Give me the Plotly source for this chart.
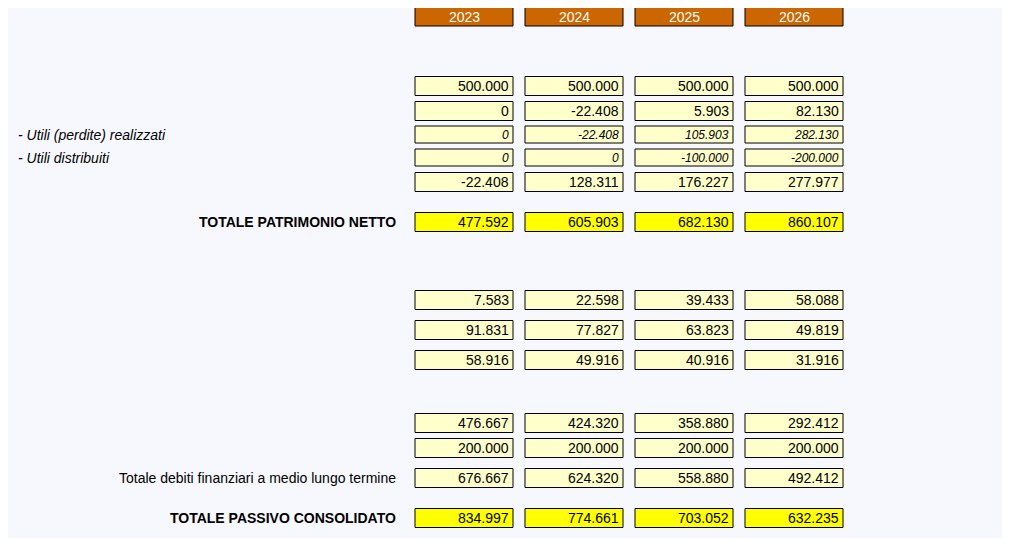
import plotly.graph_objects as go

years = ["2023", "2024", "2025", "2026"]
capitale = ["500.000", "500.000", "500.000", "500.000"]
utili_portati = ["0", "-22.408", "5.903", "82.130"]
utili_realizzati = ["0", "-22.408", "105.903", "282.130"]
utili_distribuiti = ["0", "0", "-100.000", "-200.000"]
risultato = ["-22.408", "128.311", "176.227", "277.977"]
totale_pn = ["477.592", "605.903", "682.130", "860.107"]
tfr = ["7.583", "22.598", "39.433", "58.088"]
risconti_contributi = ["91.831", "77.827", "63.823", "49.819"]
risconti_crediti = ["58.916", "49.916", "40.916", "31.916"]
fin_terzi = ["476.667", "424.320", "358.880", "292.412"]
fin_soci = ["200.000", "200.000", "200.000", "200.000"]
totale_debiti = ["676.667", "624.320", "558.880", "492.412"]
totale_pc = ["834.997", "774.661", "703.052", "632.235"]

FONT = "Liberation Sans, Arial, sans-serif"
col_x = [415, 525, 635, 745]
W = 98

shapes = []
ann = []

def text(x, y, s, size=14, bold=False, italic=False, anchor="left", color="black"):
    if bold:
        s = f"<b>{s}</b>"
    if italic:
        s = f"<i>{s}</i>"
    ann.append(dict(x=x, y=y, text=s, showarrow=False, xanchor=anchor, yanchor="middle",
                    font=dict(family=FONT, size=size, color=color)))

def box(x0, y0, y1, fill):
    shapes.append(dict(type="rect", x0=x0, x1=x0 + W, y0=y0, y1=y1,
                       fillcolor=fill, line=dict(color="black", width=1)))

# panel
shapes.append(dict(type="rect", x0=0, x1=1003, y0=5, y1=538, fillcolor="#f7f8fd", line=dict(width=0), layer="below"))

# header
text(5, 17, "PASSIVO", size=19, bold=True)
for x, y in zip(col_x, years):
    box(x, 7, 26, "#cc6600")
    text(x + W / 2, 17, y, size=14, anchor="center", color="white")

rows = [
    ("- Capitale", capitale, 86, 19, "n"),
    ("- Utili (perdite) portati a nuovo", utili_portati, 111, 19, "n"),
    ("  - Utili (perdite) realizzati", utili_realizzati, 134.5, 17, "i"),
    ("  - Utili distribuiti", utili_distribuiti, 157.5, 17, "i"),
    ("- Risultato d'esercizio", risultato, 182, 19, "n"),
    ("TOTALE PATRIMONIO NETTO", totale_pn, 222, 19, "t"),
    ("Trattamento di fine rapporto di lavoro", tfr, 300, 19, "n"),
    ("Risconti contributi c/impianti", risconti_contributi, 330, 19, "n"),
    ("Risconti crediti d'imposta", risconti_crediti, 360, 19, "n"),
    ("- Finanziamenti di terzi", fin_terzi, 423, 19, "n"),
    ("- Finanziamenti soci", fin_soci, 448, 19, "n"),
    ("Totale debiti finanziari a medio lungo termine", totale_debiti, 478, 19, "s"),
    ("TOTALE PASSIVO CONSOLIDATO", totale_pc, 518, 19, "t"),
]

text(5, 58, "PATRIMONIO NETTO", size=14, bold=True)
text(5, 262, "PASSIVO CONSOLIDATO", size=14, bold=True)
text(5, 400, "Debiti finanziari a medio lungo termine", size=14)

for label, vals, yc, h, kind in rows:
    fill = "#ffff00" if kind == "t" else "#ffffcc"
    if kind == "i":
        text(16, yc, label.strip(), size=14, italic=True)
    elif kind == "t":
        text(398, yc, label, size=14, bold=True, anchor="right")
    elif kind == "s":
        text(398, yc, label, size=14, anchor="right")
    else:
        text(5, yc, label, size=14)
    for x, v in zip(col_x, vals):
        box(x, yc - h / 2, yc + h / 2, fill)
        text(x + W - 2, yc, v, size=12 if kind == "i" else 14, italic=(kind == "i"), anchor="right")

fig = go.Figure()
fig.update_layout(
    width=1010, height=540, margin=dict(l=0, r=0, t=0, b=0),
    paper_bgcolor="white", plot_bgcolor="white",
    xaxis=dict(range=[8, 1018], visible=False, fixedrange=True),
    yaxis=dict(range=[548, 8], visible=False, fixedrange=True),
    shapes=shapes, annotations=ann, showlegend=False,
)
fig.write_html("out.html", config={"displayModeBar": False})
